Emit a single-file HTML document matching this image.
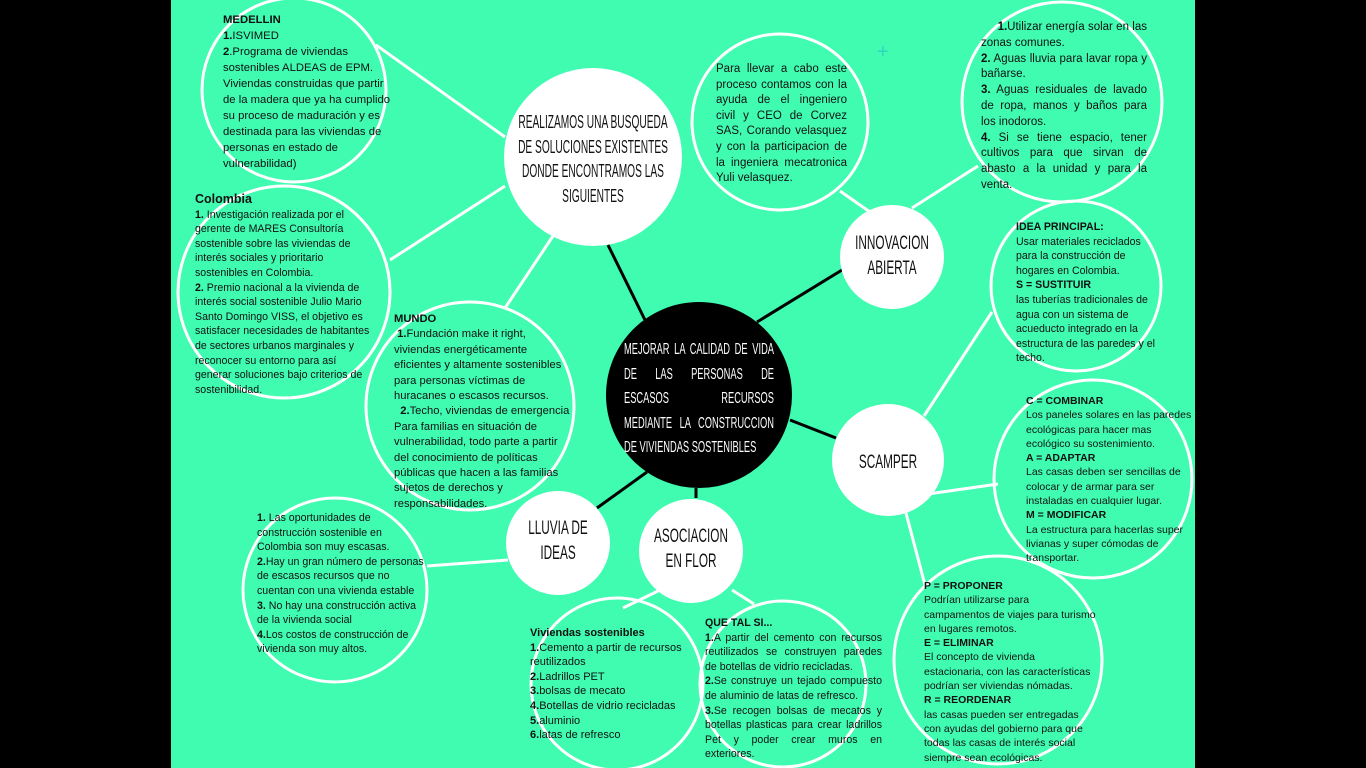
<!DOCTYPE html>
<html><head><meta charset="utf-8"><style>
body{margin:0;width:1366px;height:768px;background:#000;overflow:hidden;font-family:"Liberation Sans",sans-serif;}
#stage{position:absolute;left:171px;top:0;width:1024px;height:768px;background:#3ffcb1;}
svg{position:absolute;left:0;top:0}
.t{position:absolute;font-size:10.6px;line-height:14.6px;color:#111;}
.t b{font-weight:bold}
.j{text-align:justify}
.h{position:absolute;text-align:center;font-family:"Liberation Sans",sans-serif;color:#111;transform:scaleX(0.62);transform-origin:center;font-size:19px;line-height:25px;}
.w{color:#fff}
</style></head><body>
<div id="stage">
<svg width="1024" height="768">
<g stroke="#fff" stroke-width="3" fill="none">
<line x1="205" y1="45" x2="334" y2="137"/>
<line x1="219" y1="260" x2="334" y2="186"/>
<line x1="334" y1="308" x2="382" y2="236"/>
<line x1="669" y1="191" x2="699" y2="212"/>
<line x1="741" y1="208" x2="807" y2="166"/>
<line x1="753" y1="416" x2="821" y2="312"/>
<line x1="757" y1="494" x2="827" y2="484"/>
<line x1="735" y1="513" x2="754" y2="585"/>
<line x1="256" y1="566" x2="337" y2="560"/>
<line x1="452" y1="608" x2="489" y2="590"/>
<line x1="561" y1="590" x2="583" y2="604"/>
</g>
<g stroke="#000" stroke-width="3">
<line x1="437" y1="245" x2="474" y2="320"/>
<line x1="586" y1="322" x2="671" y2="270"/>
<line x1="619" y1="420" x2="665" y2="438"/>
<line x1="476" y1="472" x2="426" y2="508"/>
<line x1="525" y1="488" x2="525" y2="498"/>
</g>
<g stroke="#fff" stroke-width="3" fill="none">
<circle cx="123" cy="90" r="92"/>
<circle cx="113" cy="292" r="106"/>
<circle cx="299" cy="406" r="104"/>
<circle cx="609" cy="122" r="88"/>
<circle cx="891" cy="102" r="100"/>
<circle cx="905" cy="286" r="85"/>
<circle cx="922" cy="479" r="99"/>
<circle cx="827" cy="660" r="104"/>
<circle cx="164" cy="590" r="92"/>
<circle cx="446" cy="684" r="86"/>
<circle cx="612" cy="684" r="83"/>
</g>
<g fill="#fff">
<circle cx="422" cy="157" r="89"/>
<circle cx="721" cy="257" r="52"/>
<circle cx="717" cy="460" r="56"/>
<circle cx="387" cy="543" r="52"/>
<circle cx="520" cy="551" r="52"/>
</g>
<circle cx="528" cy="395" r="93" fill="#000"/>
<text x="706" y="58" fill="#2fd7c0" font-size="20" font-family="Liberation Sans">+</text>
</svg>

<div class="h" style="left:262px;top:110px;width:320px;white-space:nowrap;font-size:18.5px;line-height:24.5px;transform:scaleX(0.55)">REALIZAMOS UNA BUSQUEDA<br>DE SOLUCIONES EXISTENTES<br>DONDE ENCONTRAMOS LAS<br>SIGUIENTES</div>
<div class="h w" style="left:403px;top:338px;width:250px;font-size:15.5px;line-height:24.5px;text-align:justify;text-align-last:left;transform:scaleX(0.6)">MEJORAR LA CALIDAD DE VIDA DE LAS PERSONAS DE ESCASOS RECURSOS MEDIANTE LA CONSTRUCCION DE VIVIENDAS SOSTENIBLES</div>
<div class="h" style="left:651px;top:231px;width:140px;">INNOVACION<br>ABIERTA</div>
<div class="h" style="left:647px;top:450px;width:140px;">SCAMPER</div>
<div class="h" style="left:317px;top:516px;width:140px;">LLUVIA DE<br>IDEAS</div>
<div class="h" style="left:450px;top:524px;width:140px;">ASOCIACION<br>EN FLOR</div>

<div class="t" style="left:52px;top:12px;width:172px;font-size:11.3px;line-height:16px;"><b>MEDELLIN</b><br><b>1.</b>ISVIMED<br><b>2</b>.Programa de viviendas sostenibles ALDEAS de EPM. Viviendas construidas que partir de la madera que ya ha cumplido su proceso de maduración y es destinada para las viviendas de personas en estado de vulnerabilidad)</div>
<div class="t" style="left:24px;top:192px;width:180px;font-size:10.6px;line-height:14.6px;"><b style="font-size:12.5px">Colombia</b><br><b>1.</b> Investigación realizada por el gerente de MARES Consultoría sostenible sobre las viviendas de interés sociales y prioritario sostenibles en Colombia.<br><b>2.</b> Premio nacional a la vivienda de interés social sostenible Julio Mario Santo Domingo VISS, el objetivo es satisfacer necesidades de habitantes de sectores urbanos marginales y reconocer su entorno para así generar soluciones bajo criterios de sostenibilidad.</div>
<div class="t" style="left:223px;top:312px;width:176px;font-size:11.2px;line-height:15.4px;"><b>MUNDO</b><br>&nbsp;<b>1.</b>Fundación make it right, viviendas energéticamente eficientes y altamente sostenibles para personas víctimas de huracanes o escasos recursos.<br>&nbsp;&nbsp;<b>2.</b>Techo, viviendas de emergencia Para familias en situación de vulnerabilidad, todo parte a partir del conocimiento de políticas públicas que hacen a las familias sujetos de derechos y responsabilidades.</div>
<div class="t j" style="left:545px;top:62px;width:131px;font-size:11.5px;line-height:15.6px;">Para llevar a cabo este proceso contamos con la ayuda de el ingeniero civil y CEO de Corvez SAS, Corando velasquez y con la participacion de la ingeniera mecatronica Yuli velasquez.</div>
<div class="t j" style="left:810px;top:20px;width:166px;font-size:11.5px;line-height:15.8px;">&nbsp;&nbsp;&nbsp;&nbsp;&nbsp;<b>1.</b>Utilizar energía solar en las zonas comunes.<br><b>2.</b> Aguas lluvia para lavar ropa y bañarse.<br><b>3.</b> Aguas residuales de lavado de ropa, manos y baños para los inodoros.<br><b>4.</b> Si se tiene espacio, tener cultivos para que sirvan de abasto a la unidad y para la venta.</div>
<div class="t" style="left:845px;top:220px;width:146px;font-size:10.6px;"><b>IDEA PRINCIPAL:</b><br>Usar materiales reciclados para la construcción de hogares en Colombia.<br><b>S = SUSTITUIR</b><br>las tuberías tradicionales de agua con un sistema de acueducto integrado en la estructura de las paredes y el techo.</div>
<div class="t" style="left:855px;top:394px;width:170px;font-size:10.5px;line-height:14.3px;"><b>C = COMBINAR</b><br>Los paneles solares en las paredes ecológicas para hacer mas ecológico su sostenimiento.<br><b>A = ADAPTAR</b><br>Las casas deben ser sencillas de colocar y de armar para ser instaladas en cualquier lugar.<br><b>M = MODIFICAR</b><br>La estructura para hacerlas super livianas y super cómodas de transportar.</div>
<div class="t" style="left:753px;top:579px;width:172px;font-size:10.5px;line-height:14.3px;"><b>P = PROPONER</b><br>Podrían utilizarse para campamentos de viajes para turismo en lugares remotos.<br><b>E = ELIMINAR</b><br>El concepto de vivienda estacionaria, con las características podrían ser viviendas nómadas.<br><b>R = REORDENAR</b><br>las casas pueden ser entregadas con ayudas del gobierno para que todas las casas de interés social siempre sean ecológicas.</div>
<div class="t" style="left:86px;top:511px;width:172px;font-size:10.6px;"><b>1.</b> Las oportunidades de construcción sostenible en Colombia son muy escasas.<br><b>2.</b>Hay un gran número de personas de escasos recursos que no cuentan con una vivienda estable<br><b>3.</b> No hay una construcción activa de la vivienda social<br><b>4.</b>Los costos de construcción de vivienda son muy altos.</div>
<div class="t" style="left:359px;top:626px;width:152px;font-size:11px;"><b>Viviendas sostenibles</b><br><b>1.</b>Cemento a partir de recursos reutilizados<br><b>2.</b>Ladrillos PET<br><b>3.</b>bolsas de mecato<br><b>4.</b>Botellas de vidrio recicladas<br><b>5.</b>aluminio<br><b>6.</b>latas de refresco</div>
<div class="t j" style="left:534px;top:616px;width:177px;font-size:10.6px;"><b>QUE TAL SI...</b><br><b>1.</b>A partir del cemento con recursos reutilizados se construyen paredes de botellas de vidrio recicladas.<br><b>2.</b>Se construye un tejado compuesto de aluminio de latas de refresco.<br><b>3.</b>Se recogen bolsas de mecatos y botellas plasticas para crear ladrillos Pet y poder crear muros en exteriores.</div>
</div>
</body></html>
